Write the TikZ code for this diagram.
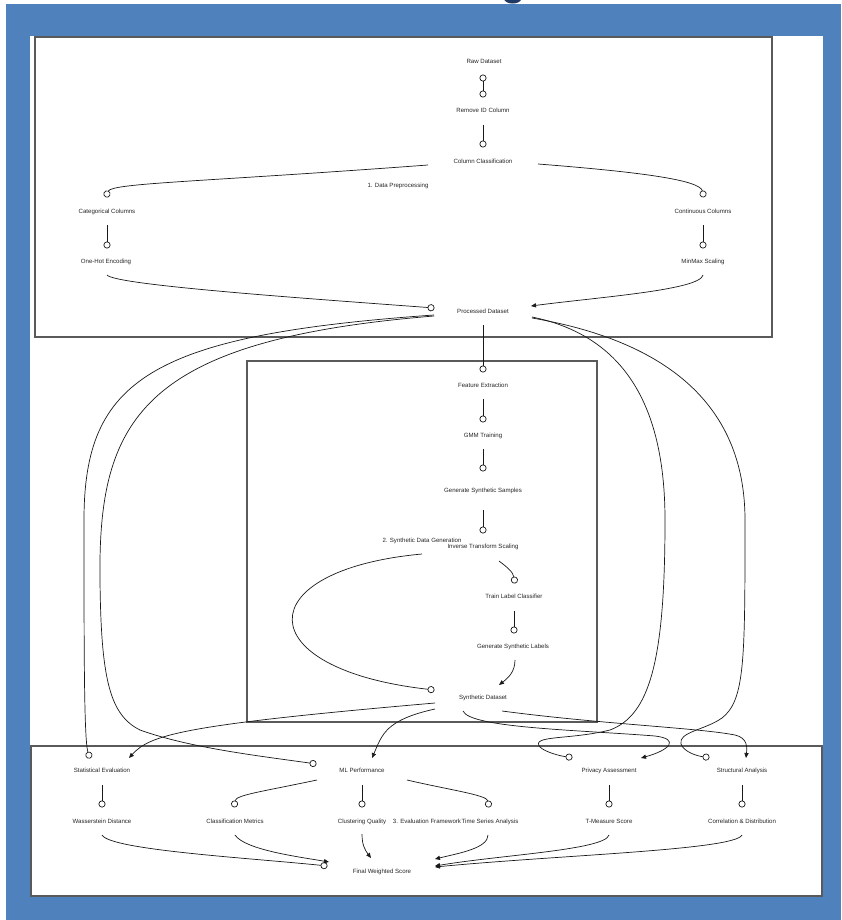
\documentclass[tikz,border=0pt]{standalone}
\usepackage{fontspec}
\setmainfont{Liberation Sans}
\usetikzlibrary{arrows.meta,calc}
\definecolor{bandblue}{HTML}{4F81BD}
\definecolor{titlenavy}{HTML}{1F3864}
\definecolor{framegray}{HTML}{5A5A5A}
\begin{document}
\begin{tikzpicture}[x=1pt,y=-1pt,
  lbl/.style={font=\fontsize{6.1}{7}\selectfont, text=black!85, inner sep=0pt,
              text height=4.4pt, text depth=1.3pt},
  conn/.style={draw=black!90, line width=0.7pt},
  oend/.style={-{Circle[open,length=7pt,width=7pt]}},
  oboth/.style={{Circle[open,length=7pt,width=7pt]}-{Circle[open,length=7pt,width=7pt]}},
  aend/.style={-{Triangle[length=5pt,width=4.2pt]}},
  framebox/.style={draw=framegray, line width=1.7pt}]

\useasboundingbox (0,0) rectangle (841,920);
\fill[white] (0,0) rectangle (841,920);
\fill[bandblue] (6,4) rectangle (841,920);
\fill[white] (30,36) rectangle (823,897);

% heading glyph, cut by the page edge
\begin{scope}
  \clip (0,0) rectangle (841,920);
  \node[font=\bfseries\fontsize{40}{40}\selectfont, text=titlenavy, anchor=base, inner sep=0pt]
    (ttl) at (514,-4.5) {g};
\end{scope}

% section frames
\draw[framebox] (35,37) rectangle (772,337);
\draw[framebox] (247,361) rectangle (597,722);
\draw[framebox] (31,746) rectangle (822,896);

% section titles
\node[lbl] (lab1) at (398,186) {1. Data Preprocessing};
\node[lbl] (lab2) at (422,541) {2. Synthetic Data Generation};
\node[lbl] (lab3) at (427,822) {3. Evaluation Framework};

% preprocessing
\node[lbl] (raw)    at (484,62)  {Raw Dataset};
\node[lbl] (rmid)   at (483,111) {Remove ID Column};
\node[lbl] (colcls) at (483,162) {Column Classification};
\node[lbl] (cat)    at (107,212) {Categorical Columns};
\node[lbl] (cont)   at (703,212) {Continuous Columns};
\node[lbl] (onehot) at (106,262) {One-Hot Encoding};
\node[lbl] (minmax) at (703,262) {MinMax Scaling};
\node[lbl] (proc)   at (483,312) {Processed Dataset};

% generation
\node[lbl] (feat)   at (483,386) {Feature Extraction};
\node[lbl] (gmm)    at (483,436) {GMM Training};
\node[lbl] (gen)    at (483,491) {Generate Synthetic Samples};
\node[lbl] (inv)    at (483,547) {Inverse Transform Scaling};
\node[lbl] (train)  at (514,597) {Train Label Classifier};
\node[lbl] (genlab) at (513,647) {Generate Synthetic Labels};
\node[lbl] (synth)  at (483,698) {Synthetic Dataset};

% evaluation
\node[lbl] (stat)   at (102,771) {Statistical Evaluation};
\node[lbl] (ml)     at (362,771) {ML Performance};
\node[lbl] (priv)   at (609,771) {Privacy Assessment};
\node[lbl] (struct) at (742,771) {Structural Analysis};
\node[lbl] (wass)   at (102,822) {Wasserstein Distance};
\node[lbl] (clsm)   at (235,822) {Classification Metrics};
\node[lbl] (clus)   at (362,822) {Clustering Quality};
\node[lbl] (ts)     at (490,822) {Time Series Analysis};
\node[lbl] (tm)     at (609,822) {T-Measure Score};
\node[lbl] (corr)   at (742,822) {Correlation \& Distribution};
\node[lbl] (final)  at (382,872) {Final Weighted Score};

% preprocessing connectors
\draw[conn,oboth] ($(raw)+(-1,12.5)$) -- ($(rmid)+(0,-13.5)$);
\draw[conn,oend] ($(rmid)+(0,14)$) -- ($(colcls)+(0,-14.5)$);
\draw[conn,oend] ($(colcls)+(-55,3)$) .. controls (200,182) and (112,183) .. ($(cat)+(-1.5,-14.8)$);
\draw[conn,oend] ($(colcls)+(55,2)$) .. controls (640,172) and (700,180) .. ($(cont)+(0.8,-14.6)$);
\draw[conn,oend] ($(cat)+(0,13)$) -- ($(onehot)+(1,-13.5)$);
\draw[conn,oend] ($(cont)+(0,13)$) -- ($(minmax)+(0,-13.5)$);
\draw[conn,oend] ($(onehot)+(1,13)$) .. controls (115,285) and (300,298) .. ($(proc)+(-48.5,-4)$);
\draw[conn,aend] ($(minmax)+(0,13)$) .. controls (700,290) and (600,297) .. ($(proc)+(48,-6)$);

% generation connectors
\draw[conn,oend] ($(proc)+(0,13)$) -- ($(feat)+(0,-13.5)$);
\draw[conn,oend] ($(feat)+(0,13)$) -- ($(gmm)+(0,-13.5)$);
\draw[conn,oend] ($(gmm)+(0,13)$) -- ($(gen)+(0,-19.5)$);
\draw[conn,oend] ($(gen)+(0,19)$) -- ($(inv)+(0,-13.5)$);
\draw[conn,oend] ($(inv)+(16,14)$) .. controls (507,567) and (513,572) .. ($(train)+(1,-13.5)$);
\draw[conn,oend] ($(train)+(0,14)$) -- ($(genlab)+(1,-13.5)$);
\draw[conn,aend] ($(genlab)+(2,13)$) .. controls (515,672) and (508,678) .. ($(synth)+(16,-13)$);
\draw[conn,oend] ($(inv)+(-61,7)$) .. controls (248,570) and (248,669) .. ($(synth)+(-48.5,-8)$);

% processed data into the evaluation
\draw[conn,oend] ($(proc)+(-49,3)$) .. controls (150,335) and (84,380) .. (84,520)
  .. controls (84,650) and (84,740) .. ($(stat)+(-12,-12.5)$);
\draw[conn,oend] ($(proc)+(-49,4)$) .. controls (140,340) and (98,420) .. (100,580)
  .. controls (101,680) and (110,715) .. (140,730)
  .. controls (190,748) and (260,756) .. ($(ml)+(-45.5,-7)$);
\draw[conn,oend] ($(proc)+(49,5)$) .. controls (620,335) and (665,400) .. (665,520)
  .. controls (665,660) and (650,715) .. (610,730)
  .. controls (570,740) and (530,735) .. (540,747)
  .. controls (545,752) and (560,756) .. ($(priv)+(-36.5,-13.5)$);
\draw[conn,oend] ($(proc)+(49,6)$) .. controls (660,340) and (745,400) .. (745,520)
  .. controls (745,660) and (745,700) .. (722,718)
  .. controls (705,730) and (678,732) .. (681,744)
  .. controls (684,752) and (697,756) .. ($(struct)+(-32.5,-13.5)$);

% synthetic data into the evaluation
\draw[conn,aend] ($(synth)+(-48,5)$) .. controls (180,725) and (150,735) .. ($(stat)+(27,-13)$);
\draw[conn,aend] ($(synth)+(-48,11)$) .. controls (385,720) and (382,735) .. ($(ml)+(10,-13)$);
\draw[conn,aend] ($(synth)+(-20,13)$) .. controls (470,728) and (580,730) .. (655,736)
  .. controls (680,739) and (670,750) .. ($(priv)+(32,-13)$);
\draw[conn,aend] ($(synth)+(19,13)$) .. controls (600,724) and (700,728) .. (735,735)
  .. controls (748,738) and (747,748) .. ($(struct)+(4,-13)$);

% evaluation connectors
\draw[conn,oend] ($(ml)+(-45,9)$) .. controls (260,792) and (236,795) .. ($(clsm)+(-1,-14.6)$);
\draw[conn,oend] ($(ml)+(0,14)$) -- ($(clus)+(0,-14.5)$);
\draw[conn,oend] ($(ml)+(45,9)$) .. controls (450,790) and (487,795) .. ($(ts)+(-1,-14.5)$);
\draw[conn,oend] ($(stat)+(0,14)$) -- ($(wass)+(0,-14.5)$);
\draw[conn,oend] ($(priv)+(0,14)$) -- ($(tm)+(0,-14.5)$);
\draw[conn,oend] ($(struct)+(0,14)$) -- ($(corr)+(0,-14.5)$);
\draw[conn,oend] ($(wass)+(0,13)$) .. controls (110,850) and (250,858) .. ($(final)+(-54.5,-6)$);
\draw[conn,aend] ($(clsm)+(0,13)$) .. controls (245,850) and (300,857) .. ($(final)+(-53,-10)$);
\draw[conn,aend] ($(clus)+(0,12)$) .. controls (362,845) and (365,850) .. ($(final)+(-11,-14)$);
\draw[conn,aend] ($(ts)+(-2,13)$) .. controls (488,848) and (460,853) .. ($(final)+(53,-13)$);
\draw[conn,aend] ($(tm)+(0,13)$) .. controls (605,850) and (500,855) .. ($(final)+(53,-6)$);
\draw[conn,aend] ($(corr)+(0,13)$) .. controls (735,850) and (560,855) .. ($(final)+(53,-5)$);
\end{tikzpicture}
\end{document}
